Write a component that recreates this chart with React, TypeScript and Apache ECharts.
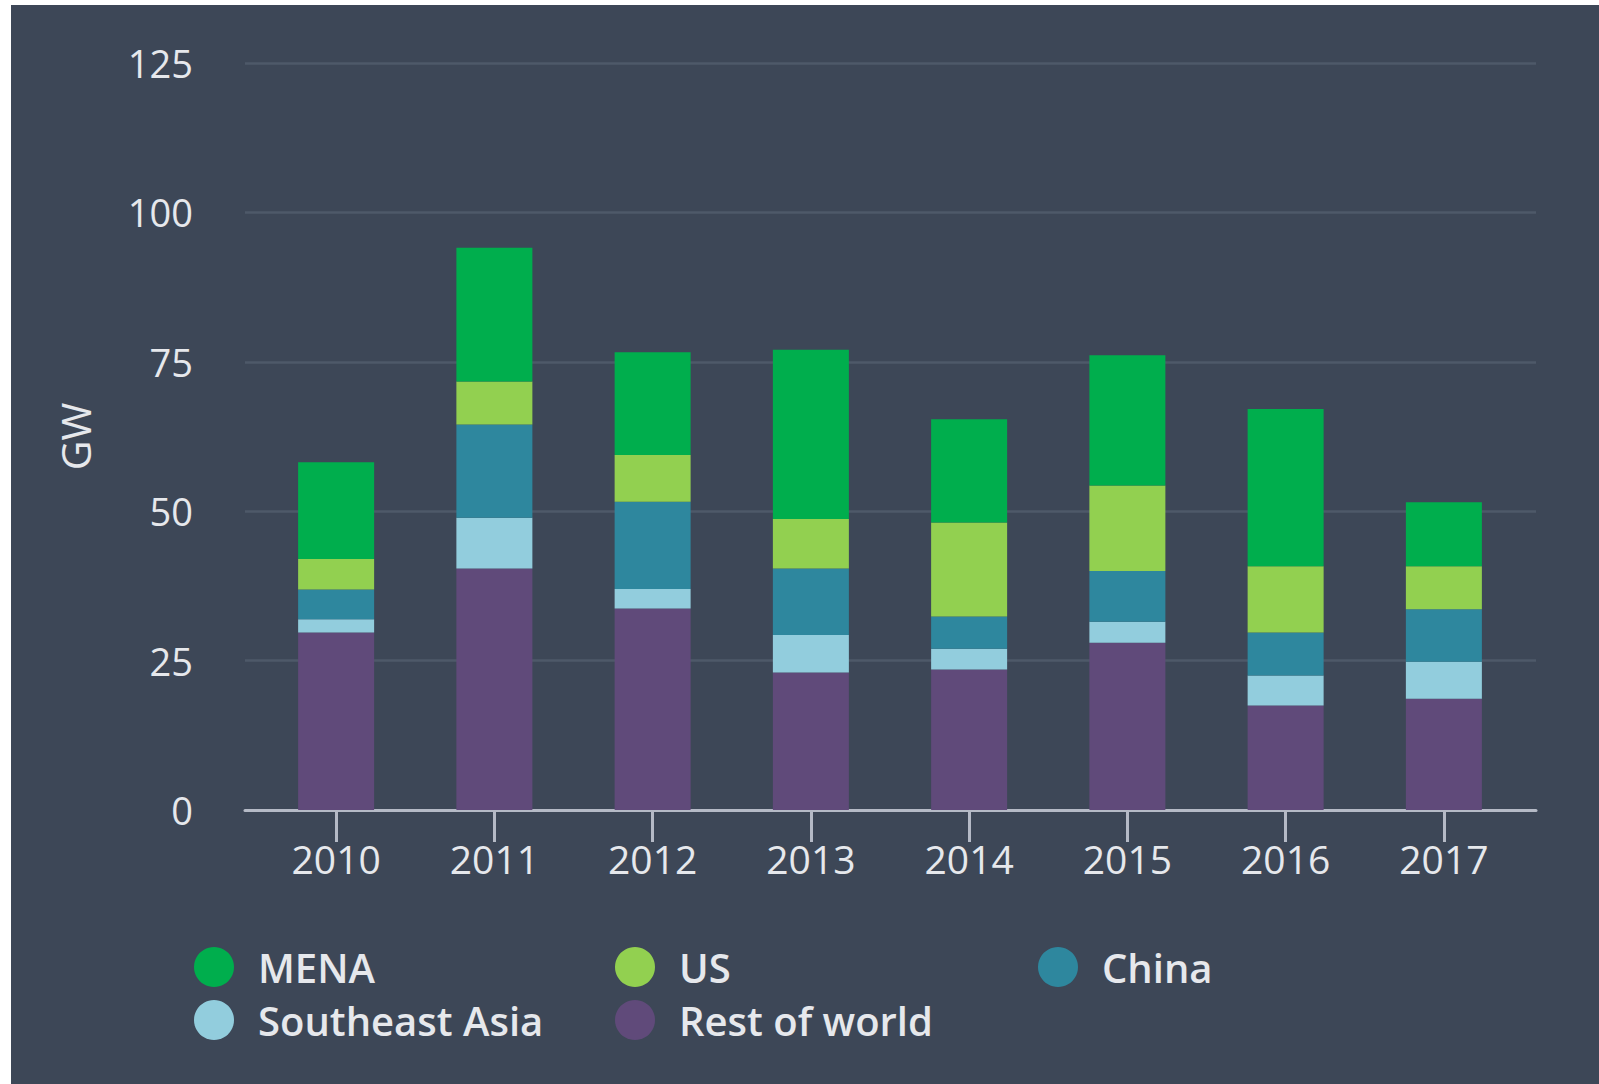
import React, { useEffect, useRef } from "react";
import * as echarts from "echarts";

const years = ["2010", "2011", "2012", "2013", "2014", "2015", "2016", "2017"];
const restOfWorld = [29.7, 40.4, 33.7, 23.0, 23.5, 28.0, 17.5, 18.6];
const southeastAsia = [2.2, 8.5, 3.3, 6.3, 3.5, 3.5, 5.0, 6.2];
const china = [5.0, 15.6, 14.6, 11.1, 5.4, 8.5, 7.2, 8.8];
const us = [5.1, 7.2, 7.8, 8.3, 15.7, 14.3, 11.1, 7.2];
const mena = [16.2, 22.4, 17.2, 28.3, 17.3, 21.8, 26.3, 10.7];
const yTicks = { min: 0, max: 125, interval: 25 };
const legendColumns = [
  ["MENA", "Southeast Asia"],
  ["US", "Rest of world"],
  ["China"],
];

const COLORS = {
  mena: "#00AE4D",
  us: "#92D050",
  china: "#2E879E",
  sea: "#92CDDD",
  row: "#604A7A",
  bg: "#3D4757",
  grid: "#4E5969",
  axis: "#B5BAC6",
  text: "#E6E8EC",
};

const FONT = "'Open Sans', 'Noto Sans', sans-serif";

export default function App() {
  const ref = useRef<HTMLDivElement>(null);
  useEffect(() => {
    if (!ref.current) return;
    const chart = echarts.init(ref.current, undefined, { renderer: "svg" });
    const legendLefts = [189, 610, 1033];
    const legends = legendColumns.map((col, i) => ({
      left: legendLefts[i],
      top: 942,
      orient: "vertical",
      icon: "circle",
      itemWidth: 78,
      itemHeight: 40,
      itemGap: 13,
      data: col,
      textStyle: {
        color: COLORS.text,
        fontSize: 40,
        fontWeight: 600,
        fontFamily: FONT,
      },
    }));
    const mkBar = (name: string, data: number[], color: string) => ({
      name,
      type: "bar",
      stack: "total",
      xAxisIndex: 1,
      yAxisIndex: 1,
      barWidth: 76,
      data,
      itemStyle: { color },
    });
    chart.setOption({
      animation: false,
      backgroundColor: "#ffffff",
      textStyle: { fontFamily: FONT },
      graphic: [
        {
          type: "rect",
          z: -100,
          silent: true,
          shape: { x: 11, y: 5, width: 1588, height: 1079 },
          style: { fill: COLORS.bg },
        },
      ],
      grid: [
        { left: 245, right: 63, top: 63, bottom: 274, containLabel: false },
        { left: 257, right: 76, top: 63, bottom: 274, containLabel: false },
      ],
      xAxis: [
        {
          type: "value",
          gridIndex: 0,
          min: 0,
          max: 1,
          axisLabel: { show: false },
          axisTick: { show: false },
          splitLine: { show: false },
          axisLine: { show: true, lineStyle: { color: COLORS.axis, width: 3 } },
        },
        {
          type: "category",
          gridIndex: 1,
          data: years,
          boundaryGap: true,
          axisLine: { show: false },
          axisTick: {
            show: true,
            alignWithLabel: true,
            length: 32,
            lineStyle: { color: COLORS.axis, width: 3 },
          },
          axisLabel: {
            color: COLORS.text,
            fontSize: 39,
            fontFamily: FONT,
            margin: 29,
          },
        },
      ],
      yAxis: [
        {
          type: "value",
          gridIndex: 0,
          min: yTicks.min,
          max: yTicks.max,
          interval: yTicks.interval,
          name: "GW",
          nameLocation: "middle",
          nameGap: 150,
          nameTextStyle: { color: COLORS.text, fontSize: 41, fontFamily: FONT },
          axisLine: { show: false },
          axisTick: { show: false },
          axisLabel: {
            color: COLORS.text,
            fontSize: 38,
            fontFamily: FONT,
            margin: 52,
            padding: [6, 0, 0, 0],
          },
          splitLine: { show: true, lineStyle: { color: COLORS.grid, width: 2.5 } },
        },
        {
          type: "value",
          gridIndex: 1,
          min: yTicks.min,
          max: yTicks.max,
          interval: yTicks.interval,
          show: false,
          splitLine: { show: false },
        },
      ],
      legend: legends,
      series: [
        mkBar("Rest of world", restOfWorld, COLORS.row),
        mkBar("Southeast Asia", southeastAsia, COLORS.sea),
        mkBar("China", china, COLORS.china),
        mkBar("US", us, COLORS.us),
        mkBar("MENA", mena, COLORS.mena),
      ],
    });
    return () => chart.dispose();
  }, []);
  return (
    <div
      ref={ref}
      style={{ position: "fixed", left: 0, top: 0, width: 1599, height: 1084 }}
    />
  );
}
